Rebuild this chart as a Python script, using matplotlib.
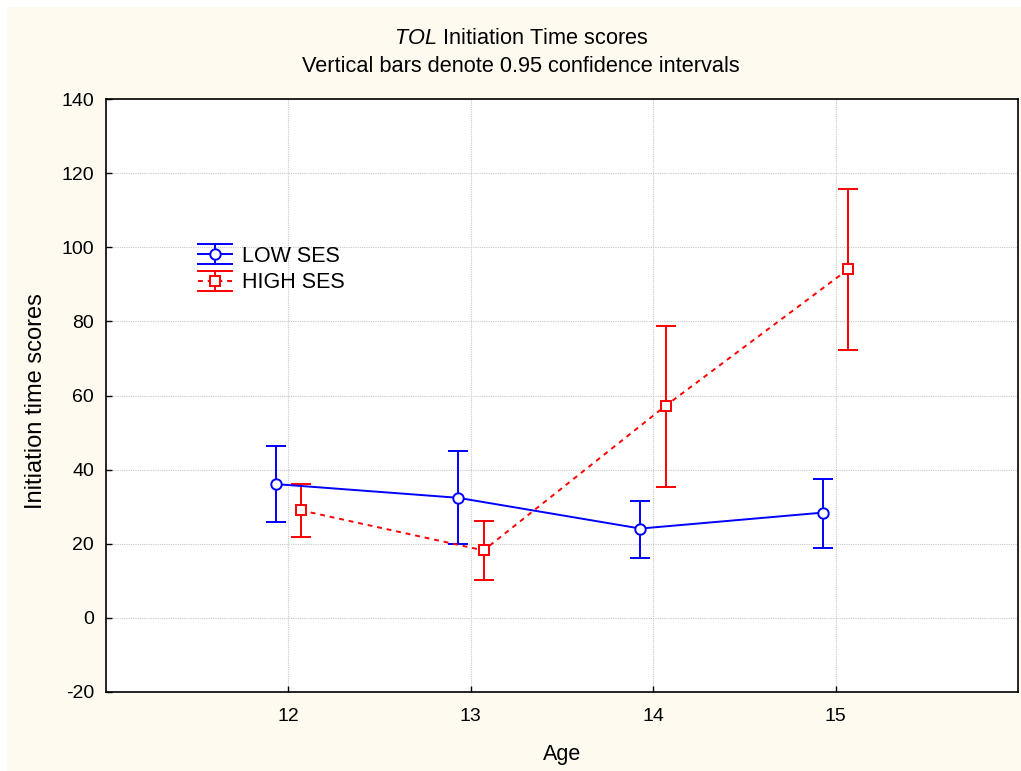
import matplotlib
matplotlib.use("Agg")
import matplotlib.pyplot as plt
from matplotlib.legend_handler import HandlerBase
from matplotlib.lines import Line2D
from matplotlib.patches import Rectangle
import numpy as np

plt.rcParams['font.family'] = ['Liberation Sans', 'DejaVu Sans']
plt.rcParams['mathtext.fontset'] = 'custom'
plt.rcParams['mathtext.rm'] = 'Liberation Sans'
plt.rcParams['mathtext.it'] = 'Liberation Sans:italic'
plt.rcParams['axes.unicode_minus'] = False

ages = [12, 13, 14, 15]
low_mean = [36.1, 32.4, 24.1, 28.4]
low_upper = [46.3, 45.0, 31.5, 37.5]
low_lower = [25.8, 19.9, 16.2, 18.9]
high_mean = [29.0, 18.2, 57.3, 94.1]
high_upper = [36.2, 26.2, 78.8, 115.8]
high_lower = [21.7, 10.2, 35.2, 72.2]
yticks = [-20, 0, 20, 40, 60, 80, 100, 120, 140]

LW = 1.4
DASH = (0, (2.5, 2.5))


class ErrHandler(HandlerBase):
    def __init__(self, color, marker, ls, ms):
        super().__init__()
        self.color, self.marker, self.ls, self.ms = color, marker, ls, ms

    def create_artists(self, legend, orig_handle, xdescent, ydescent,
                       width, height, fontsize, trans):
        x0 = -xdescent
        x1 = x0 + width
        xm = (x0 + x1) / 2
        y = height / 2 - ydescent
        h = 7.2
        arts = [
            Line2D([x0, x1], [y, y], color=self.color, lw=LW, ls=self.ls),
            Line2D([xm, xm], [y - h, y + h], color=self.color, lw=LW),
            Line2D([x0, x1], [y + h, y + h], color=self.color, lw=LW),
            Line2D([x0, x1], [y - h, y - h], color=self.color, lw=LW),
            Line2D([xm], [y], color=self.color, marker=self.marker, ms=self.ms,
                   mfc='white', mec=self.color, mew=LW, ls='none'),
        ]
        for a in arts:
            a.set_transform(trans)
        return arts


fig = plt.figure(figsize=(10.21, 7.71), dpi=100, facecolor='#FFFAF0')
fig.patches.append(Rectangle((0, 1 - 7/771), 1, 7/771, transform=fig.transFigure,
                             facecolor='white', edgecolor='none', zorder=-10))
fig.patches.append(Rectangle((0, 0), 7/1021, 1, transform=fig.transFigure,
                             facecolor='white', edgecolor='none', zorder=-10))

ax = fig.add_axes([106/1021, 1 - 692/771, (1018-106)/1021, (692-99)/771])
ax.set_facecolor('white')

x = np.array(ages, dtype=float)
lm = np.array(low_mean); hm = np.array(high_mean)
low_err = [lm - np.array(low_lower), np.array(low_upper) - lm]
high_err = [hm - np.array(high_lower), np.array(high_upper) - hm]

h_low = ax.errorbar(x - 0.07, lm, yerr=low_err, color='blue', marker='o', ms=7.5,
                    mfc='white', mec='blue', mew=LW, lw=LW, capsize=7, capthick=LW,
                    elinewidth=LW, zorder=3)
h_high = ax.errorbar(x + 0.07, hm, yerr=high_err, color='red', marker='s', ms=7,
                     mfc='white', mec='red', mew=LW, lw=LW, ls=DASH, capsize=7,
                     capthick=LW, elinewidth=LW, zorder=3)

ax.set_xlim(11, 16)
ax.set_ylim(-20, 140)
ax.set_xticks(ages)
ax.set_yticks(yticks)
ax.grid(True, color='#c8c8c8', ls=(0, (1, 1)), lw=0.8)
ax.set_axisbelow(True)
ax.tick_params(direction='in', length=4, labelsize=14, width=1)
ax.tick_params(axis='y', pad=8.5)
ax.tick_params(axis='x', pad=11.5)
for s in ax.spines.values():
    s.set_linewidth(1.2)
    s.set_color('black')

ax.set_xlabel('Age', fontsize=15.5, labelpad=13.5)
ax.set_ylabel('Initiation time scores', fontsize=17)
ax.yaxis.set_label_coords(-0.065, 0.49)

fig.text(521/1021, 1 - 38/771, r'$\it{TOL}$ Initiation Time scores', ha='center', va='center', fontsize=15.7)
fig.text(521/1021, 1 - 66/771, 'Vertical bars denote 0.95 confidence intervals', ha='center', va='center', fontsize=15.7)

leg = ax.legend([h_low, h_high], ['LOW SES', 'HIGH SES'],
                handler_map={h_low: ErrHandler('blue', 'o', '-', 7.5),
                             h_high: ErrHandler('red', 's', DASH, 7)},
                loc='upper left', bbox_to_anchor=(0.091, 0.767), frameon=False,
                fontsize=15.5, handlelength=1.62, handletextpad=0.45,
                labelspacing=0.26, borderaxespad=0)

fig.savefig('out.png', dpi=100, facecolor=fig.get_facecolor())
